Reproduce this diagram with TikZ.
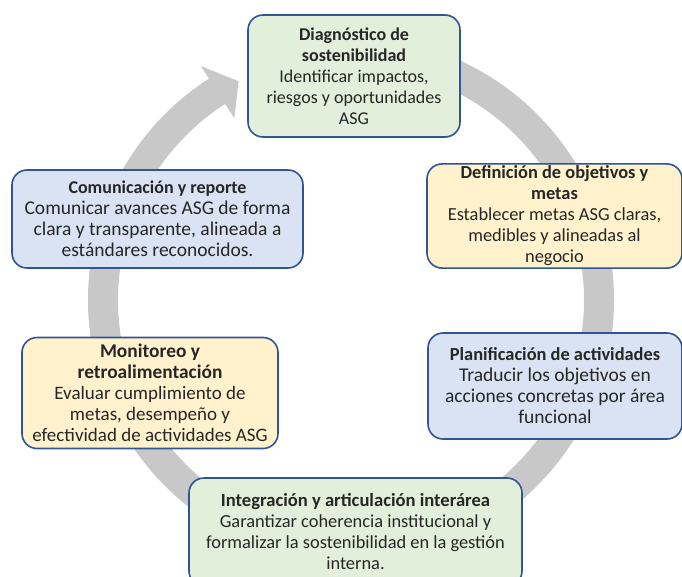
\documentclass[tikz,border=0pt]{standalone}
\usepackage{fontspec}
\setmainfont{Carlito}
\usetikzlibrary{calc}
\definecolor{ringgray}{RGB}{200,200,200}
\definecolor{boxline}{RGB}{47,85,151}
\definecolor{fgreen}{RGB}{226,239,218}
\definecolor{fyellow}{RGB}{255,242,204}
\definecolor{fblue}{RGB}{218,227,243}
\definecolor{txt}{RGB}{38,38,38}
\newcommand\titulo[2]{{\fontsize{#1}{21}\selectfont\bfseries #2}}
\begin{document}
\begin{tikzpicture}[x=1pt,y=-1pt,
    paso/.style={draw=boxline,line width=1.6pt,rounded corners=15pt,align=center,text=txt,inner sep=2pt},
    tam/.style={font=\fontsize{#1}{21}\selectfont}]
    \clip(0,0)rectangle(682,577);
    % anillo con flecha
    \coordinate(ctr) at (351,300);
    \draw[ringgray,line width=30pt]($(ctr)+(-90:248)$) arc[start angle=-90,end angle=237.5,radius=248];
    \fill[ringgray]($(ctr)+(237.3:278)$)--($(ctr)+(242.8:246)$)--($(ctr)+(237.3:216)$)--cycle;
    % etapas
    \node[paso,tam=18,fill=fgreen,minimum width=212pt,minimum height=122pt](diag) at (354,76){\titulo{18}{Diagnóstico de}\\\titulo{18}{sostenibilidad}\\Identificar impactos,\\riesgos y oportunidades\\ASG};
    \node[paso,tam=18.4,fill=fyellow,minimum width=255pt,minimum height=104pt](obj) at (554.5,216){\titulo{18.4}{Definición de objetivos y}\\\titulo{18.4}{metas}\\Establecer metas ASG claras,\\medibles y alineadas al\\negocio};
    \node[paso,tam=19.5,fill=fblue,minimum width=254pt,minimum height=106pt](plan) at (555,386){\titulo{18.4}{Planificación de actividades}\\Traducir los objetivos en\\acciones concretas por área\\funcional};
    \node[paso,tam=18.4,fill=fgreen,minimum width=333pt,minimum height=108pt](integ) at (355.5,532){\titulo{18.6}{Integración y articulación interárea}\\Garantizar coherencia institucional y\\formalizar la sostenibilidad en la gestión\\interna.};
    \node[paso,tam=19,fill=fyellow,minimum width=256pt,minimum height=111pt](monit) at (150,393){\titulo{19.4}{Monitoreo y}\\\titulo{19.4}{retroalimentación}\\Evaluar cumplimiento de\\metas, desempeño y\\efectividad de actividades ASG};
    \node[paso,tam=19.5,fill=fblue,minimum width=291pt,minimum height=98pt](comun) at (157.5,219){\titulo{18}{Comunicación y reporte}\\Comunicar avances ASG de forma\\clara y transparente, alineada a\\estándares reconocidos.};
\end{tikzpicture}
\end{document}
